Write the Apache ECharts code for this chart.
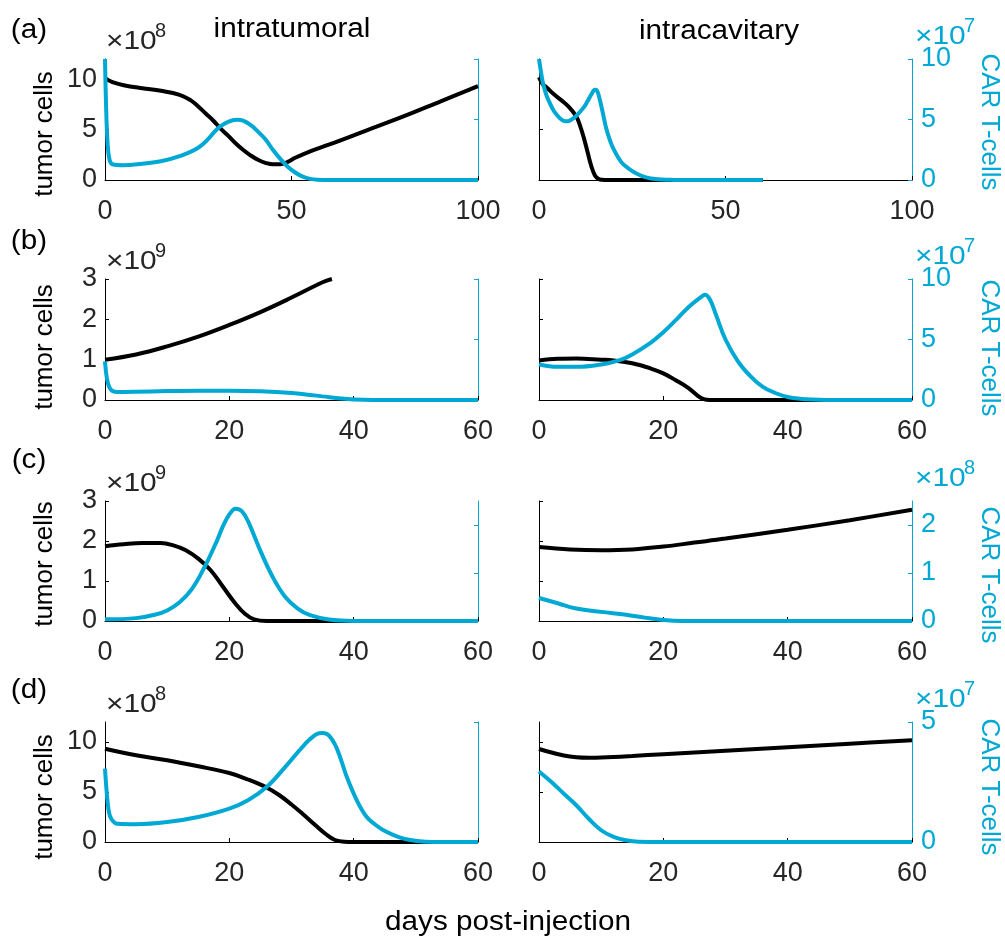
<!DOCTYPE html>
<html>
<head>
<meta charset="utf-8">
<script src="https://cdn.jsdelivr.net/npm/echarts@6/dist/echarts.min.js"></script>
<style>
html,body{margin:0;padding:0;background:#ffffff;}
#chart{width:1005px;height:940px;}
</style>
</head>
<body>
<div id="chart"></div>
<script>
// ---------------- DATA ----------------
// tumor cells in units of 10^tumorExponent, CAR T-cells in units of 10^carExponent
// Row (a)
const aIntraTumor = [[0,10.1],[2,9.7],[5,9.4],[10,9.1],[15,8.85],[20,8.45],[23,7.9],[25,7.3],[27,6.6],[29,5.9],[31,5.1],[33,4.4],[35,3.65],[37,3.0],[39,2.45],[41,2.0],[43,1.7],[45,1.55],[47,1.55],[49,1.8],[51,2.2],[55,2.85],[60,3.5],[70,4.9],[80,6.3],[90,7.8],[100,9.3]];
const aIntraCar   = [[0,10],[0.3,6],[0.7,3],[1.2,1.7],[2,1.3],[5,1.22],[10,1.35],[15,1.55],[20,1.97],[25,2.67],[28,3.5],[30,4.2],[32,4.65],[34,4.92],[35.5,4.97],[37,4.9],[39,4.55],[41,4.0],[43,3.36],[45,2.5],[47,1.75],[49,1.1],[51,0.62],[53,0.28],[55,0.09],[57,0.02],[60,0],[100,0]];
const aCavTumor   = [[0,10.2],[1,9.5],[2,9.2],[4,8.5],[6,7.9],[8,7.25],[10,6.3],[11,5.4],[12,4.2],[13,2.8],[14,1.4],[15,0.45],[16,0.1],[17,0.02],[18,0],[60,0]];
const aCavCar     = [[0,10],[0.5,9],[1,8.1],[2,7.0],[3,6.3],[4,5.7],[5,5.3],[6,5.0],[7,4.85],[8,4.88],[9,5.05],[10,5.3],[12,6.0],[13,6.5],[14,7.05],[15,7.45],[15.5,7.4],[16,7.0],[17,5.7],[18,4.3],[19,3.3],[20,2.55],[22,1.5],[24,0.95],[26,0.55],[28,0.28],[30,0.13],[33,0.04],[36,0.01],[40,0],[60,0]];
// Row (b)
const bIntraTumor = [[0,1.0],[5,1.13],[10,1.33],[15,1.57],[20,1.86],[25,2.18],[30,2.54],[35,2.92],[36.5,3.0]];
const bIntraCar   = [[0,3.2],[0.3,1.8],[0.7,1.05],[1.2,0.75],[2,0.66],[5,0.68],[10,0.74],[15,0.77],[20,0.77],[25,0.72],[30,0.58],[33,0.42],[35,0.3],[38,0.12],[40,0.04],[43,0],[60,0]];
const bCavTumor   = [[0,0.98],[3,1.02],[6,1.03],[10,1.0],[12,0.98],[15,0.91],[18,0.78],[20,0.66],[22,0.49],[24,0.3],[25.5,0.11],[26.5,0.02],[27.5,0],[60,0]];
const bCavCar     = [[0,2.94],[3,2.74],[6,2.74],[10,2.94],[13,3.3],[15,3.77],[18,4.74],[20,5.6],[22,6.6],[24,7.65],[26,8.48],[26.7,8.7],[27.5,8.3],[28.5,7.0],[30,5.0],[32,3.2],[34,1.97],[36,1.08],[38,0.58],[40,0.25],[43,0.06],[46,0.01],[48,0],[60,0]];
// Row (c)
const cIntraTumor = [[0,1.87],[3,1.92],[6,1.95],[9,1.95],[11,1.89],[13,1.77],[15,1.56],[17,1.27],[19,0.85],[21,0.43],[22.5,0.18],[24,0.04],[26,0],[60,0]];
const cIntraCar   = [[0,0.034],[5,0.06],[8,0.13],[10,0.22],[12,0.39],[14,0.67],[16,1.12],[18,1.67],[19,1.98],[20,2.22],[21,2.34],[22,2.29],[23,2.08],[25,1.46],[27,0.91],[29,0.5],[31,0.26],[33,0.12],[36,0.03],[40,0],[60,0]];
const cCavTumor   = [[0,1.85],[5,1.79],[10,1.77],[15,1.79],[20,1.86],[25,1.96],[30,2.06],[40,2.28],[50,2.52],[60,2.78]];
const cCavCar     = [[0,0.48],[3,0.37],[6,0.26],[10,0.19],[14,0.13],[17,0.07],[20,0.02],[23,0],[60,0]];
// Row (d)
const dIntraTumor = [[0,9.33],[5,8.67],[10,8.17],[15,7.57],[20,6.9],[23,6.25],[26,5.45],[28,4.7],[30,3.75],[32,2.7],[34,1.6],[35.5,0.8],[37,0.2],[38.5,0.02],[40,0],[60,0]];
const dIntraCar   = [[0,3.06],[0.3,2.0],[0.6,1.3],[1,0.97],[2,0.76],[5,0.74],[10,0.83],[15,1.04],[20,1.39],[23,1.74],[26,2.29],[29,3.13],[32,4.03],[34,4.49],[35,4.54],[36,4.44],[37.3,3.89],[38.9,2.71],[40.5,1.74],[42.1,1.04],[43.5,0.72],[44.8,0.49],[47.5,0.18],[50.2,0.04],[53,0],[60,0]];
const dCavTumor   = [[0,9.3],[2,8.95],[4,8.65],[6,8.48],[8,8.43],[10,8.45],[15,8.6],[20,8.78],[30,9.13],[40,9.48],[50,9.83],[60,10.17]];
const dCavCar     = [[0,2.94],[2,2.5],[4,2.01],[6,1.53],[8,0.97],[10,0.49],[12,0.21],[14,0.07],[16,0.01],[20,0],[60,0]];

// Axis ranges and tick labels per row
const panelLetters   = ['(a)','(b)','(c)','(d)'];
const columnTitles   = ['intratumoral','intracavitary'];
const xMaxByRow      = [100, 60, 60, 60];
const xTicksByRow    = [[0,50,100],[0,20,40,60],[0,20,40,60],[0,20,40,60]];
const tumorMaxByRow  = [12, 3, 3, 12];
const tumorTicksByRow= [[0,5,10],[0,1,2,3],[0,1,2,3],[0,5,10]];
const carMaxByRow    = [10, 10, 2.5, 5];
const carTicksByRow  = [[0,5,10],[0,5,10],[0,1,2],[0,5]];
const tumorExponents = [8, 9, 9, 8];
const carExponents   = [7, 7, 8, 7];
const tumorLabel = 'tumor cells';
const carLabel   = 'CAR T-cells';
const xLabel     = 'days post-injection';

const seriesByPanel = [
  [[aIntraTumor, aIntraCar], [aCavTumor, aCavCar]],
  [[bIntraTumor, bIntraCar], [bCavTumor, bCavCar]],
  [[cIntraTumor, cIntraCar], [cCavTumor, cCavCar]],
  [[dIntraTumor, dIntraCar], [dCavTumor, dCavCar]]
];

// ---------------- STYLE / LAYOUT ----------------
const FONT = '"Liberation Sans", Arial, Helvetica, sans-serif';
const INK = '#262626';
const BLACK = '#000000';
const CYAN = '#00A8D4';
const colLeft = [105, 539];
const plotW = 373;
const rowTop = [59, 279, 501, 722];
const rowH = [121, 121, 120, 120];
const letterY = [31, 242, 461, 691];
const tumorLabelY = [134, 347, 564, 797];
const carLabelY = [122, 348, 575, 787];

const grids = [], xAxes = [], yAxes = [], series = [], graphics = [];

for (let r = 0; r < 4; r++) {
  for (let c = 0; c < 2; c++) {
    const gi = grids.length;
    grids.push({left: colLeft[c], top: rowTop[r], width: plotW, height: rowH[r], containLabel: false, outerBoundsMode: 'none'});
    xAxes.push({
      type: 'value', gridIndex: gi, min: 0, max: xMaxByRow[r], interval: xTicksByRow[r][1],
      axisLine: {show: true, onZero: false, lineStyle: {color: BLACK, width: 1}},
      axisTick: {show: true, inside: true, length: 4, lineStyle: {color: BLACK}, customValues: xTicksByRow[r]},
      axisLabel: {show: true, margin: 18, color: INK, fontSize: 27, fontFamily: FONT, customValues: xTicksByRow[r]},
      splitLine: {show: false}
    });
    // left (tumor) axis
    yAxes.push({
      type: 'value', gridIndex: gi, position: 'left', min: 0, max: tumorMaxByRow[r], interval: tumorTicksByRow[r][1],
      axisLine: {show: true, onZero: false, lineStyle: {color: BLACK, width: 1}},
      axisTick: {show: true, inside: true, length: 4, lineStyle: {color: BLACK}, customValues: tumorTicksByRow[r]},
      axisLabel: {show: c === 0, margin: 8, color: INK, fontSize: 27, fontFamily: FONT, customValues: tumorTicksByRow[r]},
      splitLine: {show: false}
    });
    const yLeftIndex = yAxes.length - 1;
    // right (CAR T) axis
    yAxes.push({
      type: 'value', gridIndex: gi, position: 'right', min: 0, max: carMaxByRow[r], interval: carTicksByRow[r][1],
      axisLine: {show: true, onZero: false, lineStyle: {color: CYAN, width: 1}},
      axisTick: {show: true, inside: true, length: 4, lineStyle: {color: CYAN}, customValues: carTicksByRow[r]},
      axisLabel: {show: c === 1, margin: 9, color: CYAN, fontSize: 27, fontFamily: FONT, customValues: carTicksByRow[r]},
      splitLine: {show: false}
    });
    const yRightIndex = yAxes.length - 1;
    const [tumorData, carData] = seriesByPanel[r][c];
    series.push({
      type: 'line', xAxisIndex: gi, yAxisIndex: yLeftIndex, data: tumorData,
      showSymbol: false, symbol: 'none', smooth: 0.4, clip: true, z: 3,
      lineStyle: {color: BLACK, width: 4}
    });
    series.push({
      type: 'line', xAxisIndex: gi, yAxisIndex: yRightIndex, data: carData,
      showSymbol: false, symbol: 'none', smooth: 0.4, clip: true, z: 4,
      lineStyle: {color: CYAN, width: 4}
    });
  }
  // Exponent labels
  graphics.push({type: 'text', x: 106, y: rowTop[r] - 17, scaleX: 1.15,
    style: {text: '\u00d710', fill: INK, fontSize: 26, fontFamily: FONT, align: 'left', verticalAlign: 'middle'}});
  graphics.push({type: 'text', x: 155, y: rowTop[r] - 28,
    style: {text: String(tumorExponents[r]), fill: INK, fontSize: 20, fontFamily: FONT, align: 'left', verticalAlign: 'middle'}});
  graphics.push({type: 'text', x: 915, y: rowTop[r] - 22, scaleX: 1.15,
    style: {text: '\u00d710', fill: CYAN, fontSize: 26, fontFamily: FONT, align: 'left', verticalAlign: 'middle'}});
  graphics.push({type: 'text', x: 964, y: rowTop[r] - 33,
    style: {text: String(carExponents[r]), fill: CYAN, fontSize: 20, fontFamily: FONT, align: 'left', verticalAlign: 'middle'}});
  // Panel letter
  graphics.push({type: 'text', x: 29, y: letterY[r], scaleX: 1.1,
    style: {text: panelLetters[r], fill: BLACK, fontSize: 27, fontFamily: FONT, align: 'center', verticalAlign: 'middle'}});
  // Axis titles
  graphics.push({type: 'text', x: 45, y: tumorLabelY[r], rotation: Math.PI / 2,
    style: {text: tumorLabel, fill: BLACK, fontSize: 26, fontFamily: FONT, align: 'center', verticalAlign: 'middle'}});
  graphics.push({type: 'text', x: 989, y: carLabelY[r], rotation: -Math.PI / 2,
    style: {text: carLabel, fill: CYAN, fontSize: 26, fontFamily: FONT, align: 'center', verticalAlign: 'middle'}});
}
// Column titles
graphics.push({type: 'text', x: 292, y: 30, scaleX: 1.1,
  style: {text: columnTitles[0], fill: BLACK, fontSize: 27, fontFamily: FONT, align: 'center', verticalAlign: 'middle'}});
graphics.push({type: 'text', x: 719, y: 32, scaleX: 1.1,
  style: {text: columnTitles[1], fill: BLACK, fontSize: 27, fontFamily: FONT, align: 'center', verticalAlign: 'middle'}});
// Common x label
graphics.push({type: 'text', x: 508, y: 923, scaleX: 1.1,
  style: {text: xLabel, fill: BLACK, fontSize: 27, fontFamily: FONT, align: 'center', verticalAlign: 'middle'}});

const chart = echarts.init(document.getElementById('chart'), null, {renderer: 'canvas'});
chart.setOption({
  animation: false,
  backgroundColor: '#ffffff',
  grid: grids,
  xAxis: xAxes,
  yAxis: yAxes,
  series: series,
  graphic: graphics
});
</script>
</body>
</html>
